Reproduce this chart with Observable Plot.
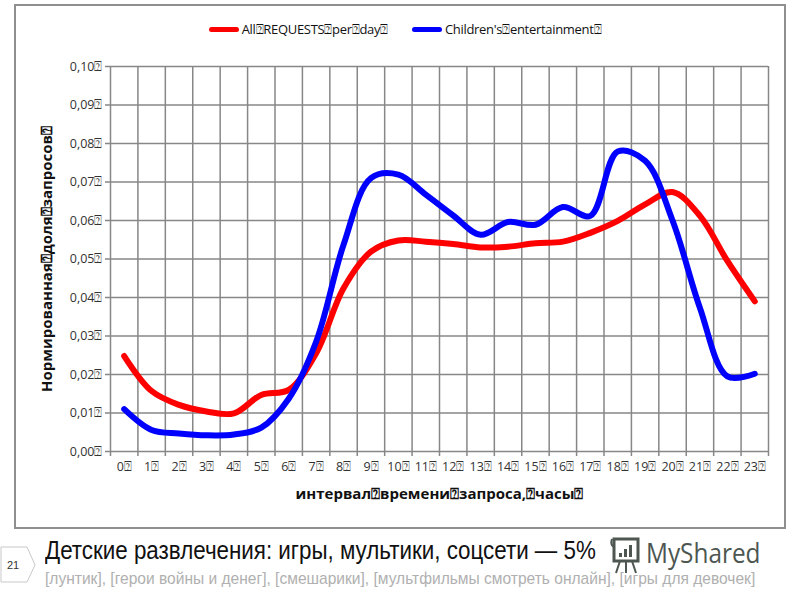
<!DOCTYPE html>
<html><head><meta charset="utf-8">
<script src="https://cdn.jsdelivr.net/npm/d3@7"></script>
<script src="https://cdn.jsdelivr.net/npm/@observablehq/plot@0.6"></script>
<style>
body{margin:0;width:800px;height:600px;background:#fff;position:relative;overflow:hidden;font-family:"Open Sans",sans-serif}
#frame{position:absolute;left:14px;top:4px;width:772px;height:525px;border:2px solid #8f8f8f;box-sizing:border-box}
#legend{position:absolute;left:0;top:20px;width:810px;display:flex;justify-content:center;align-items:center;font-size:13px;color:#111;letter-spacing:-0.3px}
#legend .sw{display:inline-block;width:30px;height:5px;border-radius:3px;margin-right:3px}
#legend .it{display:flex;align-items:center;margin:0 12px}
#chart{position:absolute;left:14px;top:50px}
#pg{position:absolute;left:0;top:546px}
#title{position:absolute;left:45px;top:535px;font-family:"Liberation Sans",sans-serif;font-size:26px;color:#111;white-space:nowrap;transform-origin:0 0;transform:scaleX(0.86)}
#sub{position:absolute;left:45px;top:569px;font-family:"Liberation Sans",sans-serif;font-size:17px;color:#b0b0b0;white-space:nowrap;transform-origin:0 0;transform:scaleX(0.915)}
#logo{position:absolute;left:610px;top:536px}
#logotext{position:absolute;left:646px;top:533px;font-family:"Open Sans",sans-serif;font-size:28px;color:#4d5650;white-space:nowrap;transform-origin:0 0;transform:scaleX(0.87)}
</style></head>
<body>
<div id="frame"></div>
<div id="legend"></div>
<div id="chart"></div>
<svg id="pg" width="40" height="38"><polygon points="1,1 27,1 35,19 27,36 1,36" fill="none" stroke="#c8c8c8" stroke-width="1"/><text x="13" y="23" font-size="11" font-family="Liberation Sans, sans-serif" fill="#333" text-anchor="middle">21</text></svg>
<div id="title">Детские развлечения: игры, мультики, соцсети — 5%</div>
<div id="sub">[лунтик], [герои войны и денег], [смешарики], [мультфильмы смотреть онлайн], [игры для девочек]</div>
<svg id="logo" width="34" height="40"><path d="M4,3 h24 v22 h-24 z" fill="none" stroke="#4d5650" stroke-width="3"/><path d="M2,3 q-2,6 2,8" fill="none" stroke="#4d5650" stroke-width="2"/><rect x="9" y="17" width="3" height="4" fill="#4d5650"/><rect x="14" y="13" width="3" height="8" fill="#4d5650"/><rect x="19" y="9" width="3" height="12" fill="#4d5650"/><path d="M10,25 l-4,12 M16,25 v12 M22,25 l4,12" stroke="#4d5650" stroke-width="2"/></svg>
<div id="logotext">MyShared</div>
<script>
const TOFU = "\u2370";
const hours = [0,1,2,3,4,5,6,7,8,9,10,11,12,13,14,15,16,17,18,19,20,21,22,23];
const allRequests = [0.0248,0.0157,0.0121,0.0104,0.0099,0.0147,0.0160,0.0255,0.0424,0.0519,0.0548,0.0545,0.0539,0.0530,0.0532,0.0541,0.0545,0.0568,0.0599,0.0642,0.0674,0.0612,0.0495,0.0390];
const childrenEnt = [0.0110,0.0056,0.0047,0.0042,0.0044,0.0062,0.0137,0.0285,0.0537,0.0710,0.0719,0.0667,0.0613,0.0563,0.0596,0.0589,0.0635,0.0612,0.0779,0.0755,0.0600,0.0373,0.0195,0.0202];
const yTicks = [0,0.01,0.02,0.03,0.04,0.05,0.06,0.07,0.08,0.09,0.10];
const seriesNames = ["All"+TOFU+"REQUESTS"+TOFU+"per"+TOFU+"day"+TOFU, "Children's"+TOFU+"entertainment"+TOFU];
const seriesColors = ["#ff0000","#0000ff"];
const yLabel = "Нормированная"+TOFU+"доля"+TOFU+"запросов"+TOFU;
const xLabel = "интервал"+TOFU+"времени"+TOFU+"запроса,"+TOFU+"часы"+TOFU;

const data = [];
hours.forEach((h,i)=>{ data.push({h, v: allRequests[i], s: seriesNames[0]}); });
hours.forEach((h,i)=>{ data.push({h, v: childrenEnt[i], s: seriesNames[1]}); });
const bounds = hours.map(h=>h-0.5).concat([hours[hours.length-1]+0.5]);

const leg = document.getElementById("legend");
seriesNames.forEach((n,i)=>{
  const it = document.createElement("span"); it.className="it";
  it.innerHTML = `<span class="sw" style="background:${seriesColors[i]}"></span><span>${n}</span>`;
  leg.appendChild(it);
});

const grid = "#878787";
const chart = Plot.plot({
  width: 772, height: 470,
  marginTop: 16, marginBottom: 69, marginLeft: 96, marginRight: 18,
  x: {domain: [bounds[0], bounds[bounds.length-1]]},
  y: {domain: [0, 0.1]},
  color: {domain: seriesNames, range: seriesColors},
  style: {fontFamily: "'Open Sans', sans-serif", fontSize: "12.5px", color: "#333"},
  marks: [
    Plot.ruleX(bounds, {stroke: grid, strokeWidth: 1.5}),
    Plot.ruleY(yTicks, {stroke: grid, strokeWidth: 1.5}),
    Plot.axisX(bounds, {tickSize: 5, tickFormat: () => "", stroke: grid, strokeWidth: 1.5, label: null}),
    Plot.axisX(hours, {tickSize: 0, tickPadding: 11, tickFormat: d => d + TOFU, label: null, fill: "#333"}),
    Plot.axisY(yTicks, {tickSize: 5, tickPadding: 3, tickFormat: d => d.toFixed(2).replace(".", ",") + TOFU, stroke: grid, strokeWidth: 1.5, label: null, fill: "#333"}),
    Plot.line(data, {x: "h", y: "v", stroke: "s", z: "s", curve: "catmull-rom", strokeWidth: 6, strokeLinecap: "round", strokeLinejoin: "round"}),
    Plot.text([yLabel], {frameAnchor: "left", textAnchor: "middle", dx: -63, rotate: -90, fontWeight: "bold", fontSize: 15, fill: "#111", text: d => d}),
    Plot.text([xLabel], {frameAnchor: "bottom", dy: 47, fontWeight: "bold", fontSize: 15, fill: "#111", text: d => d})
  ]
});
document.getElementById("chart").appendChild(chart);
</script>
</body></html>
